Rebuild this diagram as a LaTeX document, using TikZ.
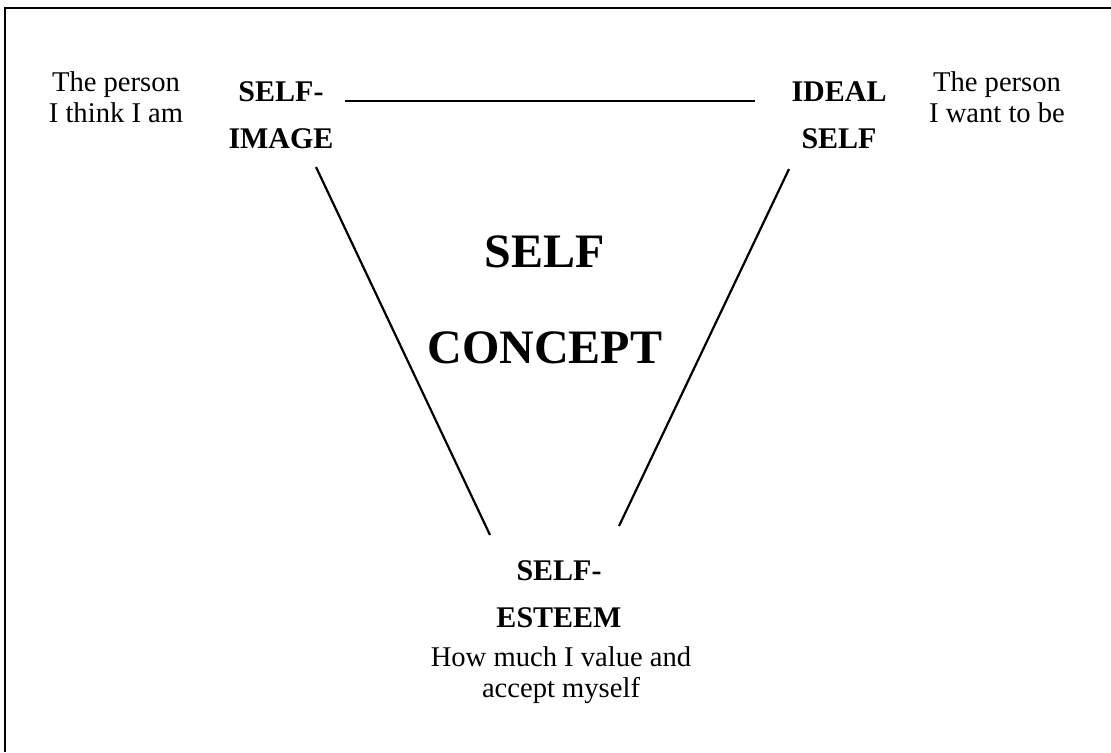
\documentclass[tikz,border=0pt]{standalone}
\usepackage{fontspec}
\setmainfont{Liberation Serif}
\usetikzlibrary{positioning}

\begin{document}
\begin{tikzpicture}[x=0.5pt, y=-0.5pt]
    \useasboundingbox (0,0) rectangle (1111,752);
    \tikzset{
      notiz/.style={font=\fontsize{14.3}{15.5}\selectfont, align=center, anchor=base, inner sep=0pt},
      ecke/.style={font=\fontsize{15}{23.5}\selectfont\bfseries, align=center, anchor=base, inner sep=0pt},
      mitte/.style={font=\fontsize{24}{48}\selectfont\bfseries, align=center, anchor=base, inner sep=0pt},
      strich/.style={line width=1.1pt}
    }
    % Rahmen: nur oben und links sichtbar
    \draw[line width=0.9pt] (5,752) -- (5,8) -- (1111,8);
    % Ecken des Dreiecks (Basislinie der letzten Zeile)
    \node[ecke] (selbstbild) at (281,148) {SELF-\\IMAGE};
    \node[ecke] (idealbild) at (839,148) {IDEAL\\SELF};
    \node[ecke] (selbstwert) at (559,627) {SELF-\\ESTEEM};
    \node[mitte] (konzept) at (545,363) {SELF\\CONCEPT};
    % Erlaeuterungen
    \node[notiz] (bildtext) at (116,122) {The person\\I think I am};
    \node[notiz] (idealtext) at (997,122) {The person\\I want to be};
    \node[notiz] (werttext) at (561,697) {How much I value and\\accept myself};
    % Seiten des Dreiecks
    \coordinate (obenL) at (345,101);
    \coordinate (obenR) at (755,101);
    \coordinate (linksO) at (316,167);
    \coordinate (linksU) at (490,535);
    \coordinate (rechtsO) at (789,169);
    \coordinate (rechtsU) at (619,526);
    \draw[strich] (obenL) -- (obenR);
    \draw[strich] (linksO) -- (linksU);
    \draw[strich] (rechtsO) -- (rechtsU);
\end{tikzpicture}
\end{document}
